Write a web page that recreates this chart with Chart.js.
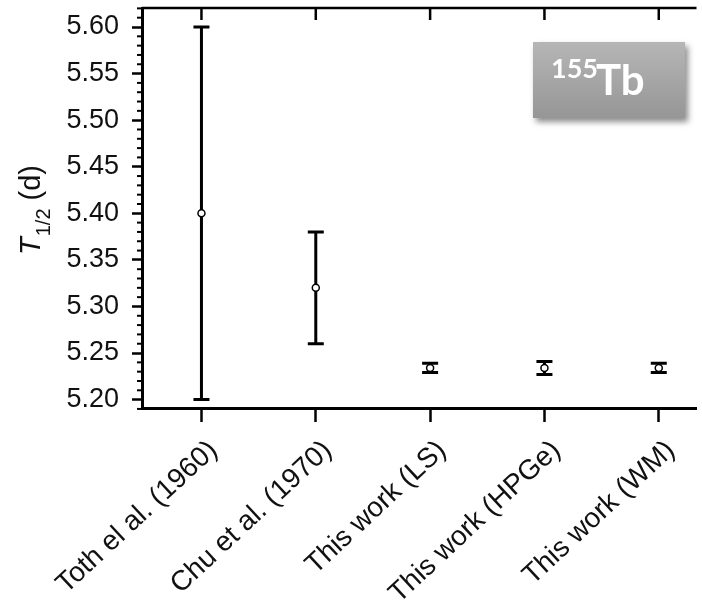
<!DOCTYPE html>
<html><head><meta charset="utf-8">
<script src="https://cdn.jsdelivr.net/npm/chart.js@4/dist/chart.umd.min.js"></script>
<style>
html,body{margin:0;padding:0;background:#fff;}
#wrap{position:relative;width:702px;height:605px;overflow:hidden;}
#box{position:absolute;left:533px;top:42px;width:152px;height:76px;background:linear-gradient(#b6b6b6,#969696);box-shadow:3px 4px 6px rgba(0,0,0,0.45);font-family:Lato,'Open Sans',sans-serif;font-weight:700;color:#fff;}
#box .sup{position:absolute;left:18px;top:12px;font-size:27px;line-height:1;}
#box .el{position:absolute;left:63px;top:16px;font-size:42px;line-height:1;}
</style></head>
<body><div id="wrap"><canvas id="c" width="702" height="605"></canvas><div id="box"><span class="sup">155</span><span class="el">Tb</span></div></div>
<script>
const categories = ["Toth el al. (1960)", "Chu et al. (1970)", "This work (LS)", "This work (HPGe)", "This work (WM)"];
const halfLife = [5.40, 5.32, 5.234, 5.234, 5.234];
const uncertainty = [0.20, 0.06, 0.005, 0.007, 0.005];
const yTickValues = [5.20, 5.25, 5.30, 5.35, 5.40, 5.45, 5.50, 5.55, 5.60];
const yMinorTicks = [5.19,5.21,5.22,5.23,5.24,5.26,5.27,5.28,5.29,5.31,5.32,5.33,5.34,5.36,5.37,5.38,5.39,5.41,5.42,5.43,5.44,5.46,5.47,5.48,5.49,5.51,5.52,5.53,5.54,5.56,5.57,5.58,5.59,5.61,5.62];
const yLimits = [5.191, 5.6204];
const xLimits = [-0.52, 4.33];

const extras = {
  id: 'extras',
  beforeDatasetsDraw(chart) {
    const {ctx, chartArea: a, scales: {x, y}} = chart;
    ctx.save();
    ctx.strokeStyle = '#000';
    ctx.lineCap = 'butt';
    ctx.lineWidth = 3;
    halfLife.forEach((v, i) => {
      const px = x.getPixelForValue(i);
      const t = y.getPixelForValue(v + uncertainty[i]);
      const b = y.getPixelForValue(v - uncertainty[i]);
      ctx.beginPath();
      ctx.moveTo(px, t); ctx.lineTo(px, b);
      ctx.moveTo(px - 8, t); ctx.lineTo(px + 8, t);
      ctx.moveTo(px - 8, b); ctx.lineTo(px + 8, b);
      ctx.stroke();
    });
    ctx.lineWidth = 2.5;
    ctx.beginPath();
    ctx.moveTo(a.left, a.top); ctx.lineTo(a.right, a.top);
    ctx.stroke();
    categories.forEach((c, i) => {
      const px = x.getPixelForValue(i);
      ctx.beginPath();
      ctx.moveTo(px, a.top); ctx.lineTo(px, a.top + 12);
      ctx.stroke();
    });
    ctx.lineWidth = 2;
    yMinorTicks.forEach(v => {
      const py = y.getPixelForValue(v);
      if (py < a.top - 1 || py > a.bottom + 1) return;
      ctx.beginPath();
      ctx.moveTo(a.left - 5, py); ctx.lineTo(a.left, py);
      ctx.stroke();
    });
    ctx.restore();
  },
  afterDraw(chart) {
    const ctx = chart.ctx;
    ctx.save();
    ctx.translate(40, 255);
    ctx.rotate(-Math.PI / 2);
    ctx.fillStyle = '#111';
    ctx.textBaseline = 'alphabetic';
    ctx.textAlign = 'left';
    ctx.font = 'italic 29px "Liberation Sans", Arial, sans-serif';
    ctx.fillText('T', 0, 0);
    let w = ctx.measureText('T').width + 1;
    ctx.font = '20px "Liberation Sans", Arial, sans-serif';
    ctx.fillText('1/2', w, 10);
    w += ctx.measureText('1/2').width;
    ctx.font = '29px "Liberation Sans", Arial, sans-serif';
    ctx.fillText(' (d)', w, 0);
    ctx.restore();
  }
};

new Chart(document.getElementById('c'), {
  type: 'scatter',
  data: {
    datasets: [{
      data: halfLife.map((v, i) => ({x: i, y: v})),
      pointRadius: 3.5,
      pointBackgroundColor: '#fff',
      pointBorderColor: '#000',
      pointBorderWidth: 1.5,
      showLine: false
    }]
  },
  options: {
    responsive: false,
    animation: false,
    devicePixelRatio: 1,
    layout: {padding: {top: 8, right: 0, left: 0, bottom: 0}},
    plugins: {legend: {display: false}, tooltip: {enabled: false}},
    scales: {
      x: {
        type: 'linear',
        min: xLimits[0], max: xLimits[1],
        afterBuildTicks: s => { s.ticks = categories.map((c, i) => ({value: i})); },
        afterFit: s => { s.height = 197; s.paddingLeft = 0; s.paddingRight = 0; },
        ticks: {
          callback: v => categories[v] ?? '',
          minRotation: 43, maxRotation: 43, autoSkip: false,
          font: {family: '"Liberation Sans", Arial, sans-serif', size: 28},
          color: '#111', padding: 12, labelOffset: 12
        },
        grid: {display: true, drawOnChartArea: false, drawTicks: true, tickLength: 14, tickWidth: 2.5, tickColor: '#000'},
        border: {display: true, color: '#000', width: 3}
      },
      y: {
        type: 'linear',
        min: yLimits[0], max: yLimits[1],
        afterBuildTicks: s => { s.ticks = yTickValues.map(v => ({value: v})); },
        afterFit: s => { s.width = 142; s.paddingTop = 0; s.paddingBottom = 0; },
        ticks: {
          callback: v => Number(v).toFixed(2),
          font: {family: '"Liberation Sans", Arial, sans-serif', size: 27},
          color: '#111', padding: 13
        },
        grid: {display: true, drawOnChartArea: false, drawTicks: true, tickLength: 10, tickWidth: 2.5, tickColor: '#000'},
        border: {display: true, color: '#000', width: 3}
      }
    }
  },
  plugins: [extras]
});
</script>
</body></html>
